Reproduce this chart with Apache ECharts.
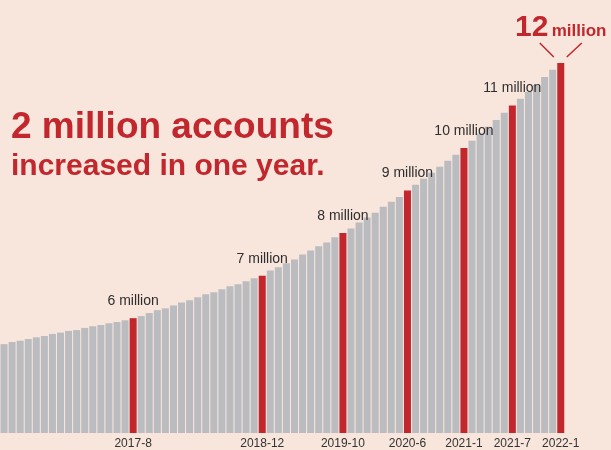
<!DOCTYPE html>
<html>
<head>
<meta charset="utf-8">
<script src="https://cdn.jsdelivr.net/npm/echarts@6/dist/echarts.min.js"></script>
<style>
html,body{margin:0;padding:0;background:#f8e5db;}
#c{width:611px;height:450px;}
</style>
</head>
<body>
<div id="c"></div>
<script>
var months = [
 '2016-4','2016-5','2016-6','2016-7','2016-8','2016-9','2016-10','2016-11','2016-12',
 '2017-1','2017-2','2017-3','2017-4','2017-5','2017-6','2017-7','2017-8','2017-9','2017-10','2017-11','2017-12',
 '2018-1','2018-2','2018-3','2018-4','2018-5','2018-6','2018-7','2018-8','2018-9','2018-10','2018-11','2018-12',
 '2019-1','2019-2','2019-3','2019-4','2019-5','2019-6','2019-7','2019-8','2019-9','2019-10','2019-11','2019-12',
 '2020-1','2020-2','2020-3','2020-4','2020-5','2020-6','2020-7','2020-8','2020-9','2020-10','2020-11','2020-12',
 '2021-1','2021-2','2021-3','2021-4','2021-5','2021-6','2021-7','2021-8','2021-9','2021-10','2021-11','2021-12',
 '2022-1'
];
// accounts, millions
var accounts = [
 5.39,5.44,5.47,5.51,5.55,5.58,5.63,5.66,5.70,
 5.72,5.77,5.81,5.84,5.88,5.91,5.95,6.00,6.05,6.12,6.19,6.23,
 6.30,6.37,6.42,6.49,6.56,6.61,6.68,6.75,6.80,6.87,6.94,7.00,
 7.12,7.20,7.29,7.38,7.50,7.59,7.69,7.78,7.90,8.00,8.11,8.25,
 8.37,8.48,8.62,8.74,8.85,9.00,9.14,9.28,9.42,9.56,9.70,9.84,
 10.00,10.17,10.34,10.50,10.66,10.83,11.00,11.16,11.32,11.48,11.67,11.84,
 12.00
];
var milestoneMonths = ['2017-8','2018-12','2019-10','2020-6','2021-1','2021-7','2022-1'];
var milestoneLabels = ['6 million','7 million','8 million','9 million','10 million','11 million','12 million'];
var headline = '2 million accounts';
var subline = 'increased in one year.';

var RED = '#c1272d', GRAY = '#bbbcc0', TXT = '#2e2e2e';
var FONT = 'Liberation Sans';

var chart = echarts.init(document.getElementById('c'), null, {renderer: 'canvas'});

var lastIdx = months.length - 1;
var seriesData = accounts.map(function (v, i) {
  var mi = milestoneMonths.indexOf(months[i]);
  var item = { value: v, itemStyle: { color: mi >= 0 ? RED : GRAY } };
  if (mi >= 0 && i !== lastIdx) {
    item.label = { show: true, position: 'top', distance: 10, formatter: milestoneLabels[mi],
      fontSize: 14, color: TXT, fontFamily: FONT };
  } else if (i === lastIdx) {
    var parts = milestoneLabels[mi].split(' ');
    item.label = { show: true, position: 'top', distance: 20,
      formatter: '{a|' + parts[0] + '} {b|' + parts[1] + '}',
      rich: {
        a: { fontSize: 30, fontWeight: 'bold', color: RED, fontFamily: FONT },
        b: { fontSize: 17, fontWeight: 'bold', color: RED, fontFamily: FONT, padding: [6, 0, 0, 0] }
      }
    };
  }
  return item;
});

var titleGraphics = [
  { type: 'text', left: 11, top: 109, z: 10,
    style: { text: headline, font: 'bold 37px ' + FONT, fill: RED } },
  { type: 'text', left: 11, top: 152, z: 10,
    style: { text: subline, font: 'bold 30px ' + FONT, fill: RED } }
];

chart.setOption({
  backgroundColor: '#f8e5db',
  animation: false,
  grid: { left: -3.6, right: 46.2, top: 63, bottom: 16, containLabel: false },
  xAxis: {
    type: 'category', data: months,
    axisLine: { show: false }, axisTick: { show: false },
    axisLabel: {
      interval: function (idx, val) { return milestoneMonths.indexOf(val) >= 0; },
      fontSize: 12, color: '#333', fontFamily: FONT, margin: 5
    }
  },
  yAxis: { type: 'value', min: 3.3, max: 12, show: false, splitLine: { show: false } },
  series: [{
    type: 'bar', data: seriesData, barWidth: 7, z: 2,
    labelLayout: { hideOverlap: false }
  }],
  graphic: titleGraphics
});

// connector strokes under "12 million", anchored to the last bar through the axes
var tip = chart.convertToPixel({ seriesIndex: 0 }, [lastIdx, accounts[lastIdx]]);
chart.setOption({
  graphic: titleGraphics.concat([
    { type: 'line', z: 10, shape: { x1: tip[0] - 21, y1: tip[1] - 20, x2: tip[0] - 7, y2: tip[1] - 6 },
      style: { stroke: RED, lineWidth: 1.5 } },
    { type: 'line', z: 10, shape: { x1: tip[0] + 21, y1: tip[1] - 20, x2: tip[0] + 6, y2: tip[1] - 6 },
      style: { stroke: RED, lineWidth: 1.5 } }
  ])
});
</script>
</body>
</html>
